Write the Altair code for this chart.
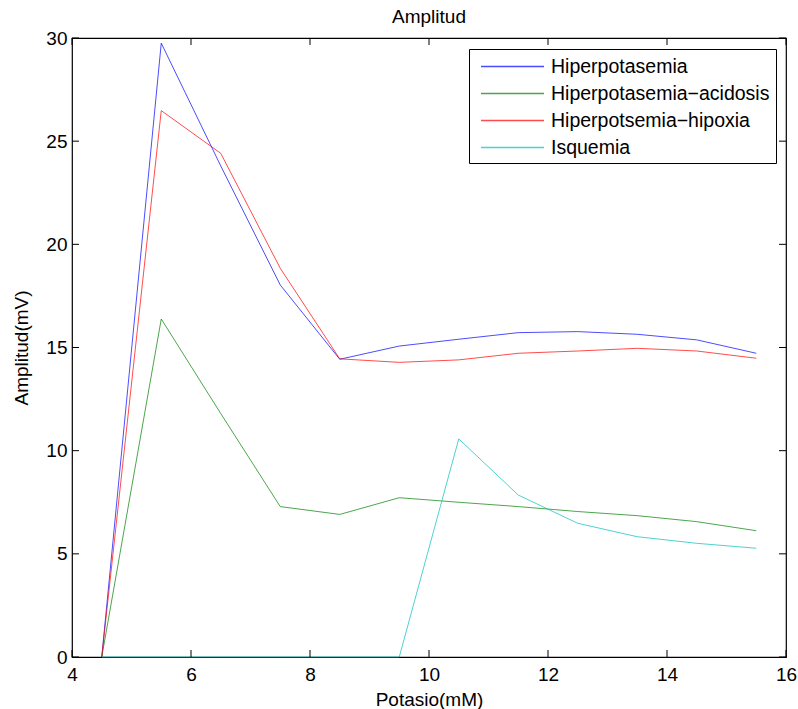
import altair as alt
import pandas as pd

potasio = [4.5, 5.5, 6.5, 7.5, 8.5, 9.5, 10.5, 11.5, 12.5, 13.5, 14.5, 15.5]
hiperpotasemia = [0, 29.75, 23.8, 18.03, 14.43, 15.07, 15.4, 15.72, 15.77, 15.64, 15.37, 14.72]
hiper_acidosis = [0, 16.38, 11.8, 7.29, 6.91, 7.72, 7.5, 7.29, 7.05, 6.85, 6.56, 6.12]
hiper_hipoxia = [0, 26.48, 24.41, 18.84, 14.45, 14.28, 14.4, 14.72, 14.83, 14.96, 14.83, 14.48]
isquemia = [0, 0, 0, 0, 0, 0, 10.57, 7.85, 6.48, 5.83, 5.51, 5.27]

series_names = ["Hiperpotasemia", "Hiperpotasemia\u2212acidosis", "Hiperpotsemia\u2212hipoxia", "Isquemia"]
series_colors = ["#0000ff", "#008000", "#ff0000", "#00bfbf"]
x_ticks = [4, 6, 8, 10, 12, 14, 16]
y_ticks = [0, 5, 10, 15, 20, 25, 30]

rows = []
for name, vals in zip(series_names, [hiperpotasemia, hiper_acidosis, hiper_hipoxia, isquemia]):
    for k, v in zip(potasio, vals):
        rows.append({"K": k, "A": v, "serie": name})
df = pd.DataFrame(rows)

W, H = 714, 619
FONT = "Liberation Sans"
xscale = alt.Scale(domain=[4, 16], nice=False, zero=False)
yscale = alt.Scale(domain=[0, 30], nice=False)
xaxis = alt.Axis(values=x_ticks, grid=False, ticks=False, domain=False,
                 labelFontSize=19, labelPadding=8, labelColor="#000",
                 titleFontSize=19, titleFontWeight="normal", titleColor="#000",
                 titlePadding=6, labelFlush=False)
yaxis = alt.Axis(values=y_ticks, grid=False, ticks=False, domain=False,
                 labelFontSize=19, labelPadding=5, labelColor="#000",
                 titleFontSize=19, titleFontWeight="normal", titleColor="#000",
                 titlePadding=14.5, labelFlush=False)
XT = "Potasio(mM)"
YT = "Amplitud(mV)"

lines = alt.Chart(df).mark_line(strokeWidth=1, opacity=0.7).encode(
    x=alt.X("K:Q", scale=xscale, title=XT, axis=xaxis),
    y=alt.Y("A:Q", scale=yscale, title=YT, axis=yaxis),
    color=alt.Color("serie:N", scale=alt.Scale(domain=series_names, range=series_colors),
                    legend=alt.Legend(title=None, orient="none", legendX=397, legendY=11,
                                      symbolType="M-3,0H3", symbolSize=441,
                                      symbolStrokeWidth=1.5, symbolOffset=26,
                                      labelFontSize=19.5, labelColor="#000", labelOffset=27,
                                      rowPadding=6, padding=6,
                                      strokeColor="#000", fillColor="#fff",
                                      labelLimit=400)),
)

xt = pd.DataFrame({"v": x_ticks})
yt = pd.DataFrame({"v": y_ticks})
tick_style = dict(color="#000", strokeWidth=1)
xb = alt.Chart(xt).mark_rule(**tick_style).encode(x=alt.X("v:Q", scale=xscale, title=XT, axis=xaxis), y=alt.value(H), y2=alt.value(H - 7))
xtp = alt.Chart(xt).mark_rule(**tick_style).encode(x=alt.X("v:Q", scale=xscale, title=XT, axis=xaxis), y=alt.value(0), y2=alt.value(7))
yl = alt.Chart(yt).mark_rule(**tick_style).encode(y=alt.Y("v:Q", scale=yscale, title=YT, axis=yaxis), x=alt.value(0), x2=alt.value(7))
yr = alt.Chart(yt).mark_rule(**tick_style).encode(y=alt.Y("v:Q", scale=yscale, title=YT, axis=yaxis), x=alt.value(W), x2=alt.value(W - 7))

chart = alt.layer(lines, xb, xtp, yl, yr).properties(
    width=W, height=H,
    title=alt.TitleParams("Amplitud", fontSize=19, fontWeight="normal", color="#000", offset=2, font=FONT),
    autosize=alt.AutoSizeParams(type="none"),
    padding={"left": 72, "top": 38, "right": 12, "bottom": 52},
).configure(font=FONT).configure_view(stroke="#000", strokeWidth=1.2)

chart.save("out.html", embed_options={"renderer": "svg", "actions": False})
